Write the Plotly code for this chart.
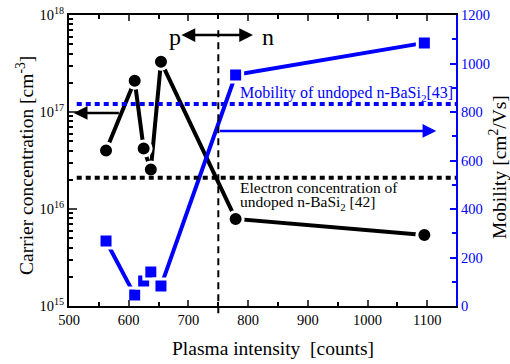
import plotly.graph_objects as go

# ---- data ----
plasma_intensity = [562, 610, 625, 637, 654, 779, 1095]
carrier_conc = [4.0e16, 2.1e17, 4.2e16, 2.55e16, 3.3e17, 7.9e15, 5.4e15]
mobility = [268, 45, 103, 140, 82, 953, 1085]
ref_electron_conc = 2.1e16
ref_mobility = 833
pn_boundary = 750

left_tickvals = [1e15, 1e16, 1e17, 1e18]
left_ticktext = ["10<sup>15</sup>", "10<sup>16</sup>", "10<sup>17</sup>", "10<sup>18</sup>"]
left_minor = [m * 10 ** e for e in (15, 16, 17) for m in range(2, 10)]
right_tickvals = [0, 200, 400, 600, 800, 1000, 1200]
x_tickvals = [500, 600, 700, 800, 900, 1000, 1100]

FONT = "Liberation Serif, Times New Roman, Times, serif"
BLUE = "#0000ff"

# layout geometry (pixels)
W, H = 510, 364
L, R, T, B = 69, 54, 15, 58
PH = H - T - B
PW = W - L - R


def px_x(p):
    return (p - L) / PW


def px_y(p):
    return (H - B - p) / PH


fig = go.Figure()

fig.add_trace(go.Scatter(
    x=plasma_intensity, y=carrier_conc, mode="lines+markers",
    line=dict(color="black", width=4),
    marker=dict(symbol="circle", size=15, color="black",
                line=dict(color="white", width=3)),
    yaxis="y", showlegend=False))

fig.add_trace(go.Scatter(
    x=plasma_intensity, y=mobility, mode="lines+markers",
    line=dict(color=BLUE, width=4),
    marker=dict(symbol="square", size=14, color=BLUE,
                line=dict(color="white", width=3)),
    yaxis="y2", showlegend=False))

shapes = [
    dict(type="line", xref="paper", yref="y2", x0=0.02, x1=1,
         y0=ref_mobility, y1=ref_mobility,
         line=dict(color=BLUE, width=4, dash="5px,4px")),
    dict(type="line", xref="paper", yref="y", x0=0.02, x1=1,
         y0=ref_electron_conc, y1=ref_electron_conc,
         line=dict(color="black", width=4, dash="5px,4px")),
    dict(type="line", xref="x", yref="paper", x0=pn_boundary, x1=pn_boundary,
         y0=-0.025, y1=0.96,
         line=dict(color="black", width=2, dash="7px,5px")),
]

annotations = [
    # p <-> n arrow
    dict(x=px_x(253), y=px_y(35), xref="paper", yref="paper",
         ax=-(253 - 180), ay=0, axref="pixel", ayref="pixel",
         showarrow=True, arrowhead=2, arrowside="end+start", arrowsize=1.1,
         arrowwidth=2.5, arrowcolor="black", text=""),
    dict(x=px_x(167), y=px_y(37), xref="paper", yref="paper", text="p",
         showarrow=False, yanchor="middle",
         font=dict(family=FONT, size=24, color="black")),
    dict(x=px_x(268), y=px_y(37), xref="paper", yref="paper", text="n",
         showarrow=False, yanchor="middle",
         font=dict(family=FONT, size=24, color="black")),
    # black arrow to left axis
    dict(x=508, y=16.99, xref="x", yref="y",
         ax=586, ay=16.99, axref="x", ayref="y",
         showarrow=True, arrowhead=2, arrowsize=1.1, arrowwidth=2.5,
         arrowcolor="black", text=""),
    # blue arrow to right axis
    dict(x=1115, y=722, xref="x", yref="y2",
         ax=pn_boundary, ay=722, axref="x", ayref="y2",
         showarrow=True, arrowhead=2, arrowsize=1.1, arrowwidth=2.5,
         arrowcolor=BLUE, text=""),
    dict(x=px_x(238), y=px_y(94), xref="paper", yref="paper",
         text="Mobility of undoped n-BaSi<sub>2</sub>[43]", showarrow=False,
         xanchor="left", yanchor="middle", height=16, valign="middle",
         font=dict(family=FONT, size=16, color=BLUE)),
    dict(x=px_x(238), y=px_y(186.5), xref="paper", yref="paper",
         text="Electron concentration of", showarrow=False,
         xanchor="left", yanchor="middle", height=16, valign="middle",
         font=dict(family=FONT, size=15.5, color="black")),
    dict(x=px_x(238), y=px_y(203), xref="paper", yref="paper",
         text="undoped n-BaSi<sub>2</sub> [42]", showarrow=False,
         xanchor="left", yanchor="middle", height=16, valign="middle",
         font=dict(family=FONT, size=15.5, color="black")),
    # axis titles
    dict(x=px_x(273), y=px_y(348), xref="paper", yref="paper",
         text="Plasma intensity&nbsp; [counts]", showarrow=False,
         xanchor="center", yanchor="middle",
         font=dict(family=FONT, size=19.5, color="black")),
    dict(x=px_x(25), y=px_y(166), xref="paper", yref="paper",
         text="Carrier concentration [cm<sup>-3</sup>]", showarrow=False,
         textangle=-90, xanchor="center", yanchor="middle",
         font=dict(family=FONT, size=19.5, color="black")),
    dict(x=px_x(498), y=px_y(167), xref="paper", yref="paper",
         text="Mobility [cm<sup>2</sup>/Vs]", showarrow=False,
         textangle=-90, xanchor="center", yanchor="middle",
         font=dict(family=FONT, size=19.5, color="black")),
]

fig.update_layout(
    width=W, height=H,
    margin=dict(l=L, r=R, t=T, b=B),
    paper_bgcolor="white", plot_bgcolor="white",
    font=dict(family=FONT, size=14.5, color="black"),
    shapes=shapes, annotations=annotations,
    xaxis=dict(range=[500, 1148], tickvals=x_tickvals, ticks="inside",
               ticklen=6, tickwidth=1.5, showgrid=False, zeroline=False,
               showline=True, linecolor="black", linewidth=2, mirror="ticks",
               automargin=False,
               minor=dict(dtick=50, ticks="inside", ticklen=4, tickwidth=1.5,
                          tickcolor="black", showgrid=False),
               tickfont=dict(family=FONT, size=14.5)),
    yaxis=dict(type="log", range=[15, 18], tickvals=left_tickvals,
               ticktext=left_ticktext, ticks="inside", ticklen=8, tickwidth=1.5,
               showgrid=False, zeroline=False, showline=True, linecolor="black",
               linewidth=2, automargin=False,
               minor=dict(tickvals=left_minor, ticks="inside", ticklen=4,
                          tickwidth=1.5, tickcolor="black", showgrid=False),
               tickfont=dict(family=FONT, size=14.5)),
    yaxis2=dict(overlaying="y", side="right", range=[0, 1200],
                tickvals=right_tickvals, ticks="inside", ticklen=6,
                tickwidth=1.5, tickcolor=BLUE, showgrid=False, zeroline=False,
                showline=True, linecolor=BLUE, linewidth=2, automargin=False,
                minor=dict(dtick=100, ticks="inside", ticklen=4, tickwidth=1.5,
                           tickcolor=BLUE, showgrid=False),
                tickfont=dict(family=FONT, size=14.5, color=BLUE)),
)

fig.write_html("out.html")
